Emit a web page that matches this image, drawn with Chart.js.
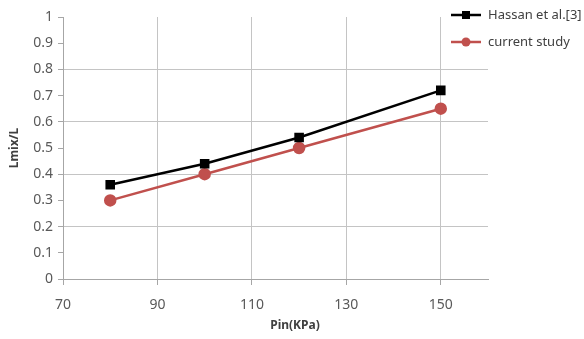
<!DOCTYPE html>
<html>
<head>
<meta charset="utf-8">
<script src="https://cdn.jsdelivr.net/npm/chart.js@4"></script>
<style>
  html, body { margin: 0; padding: 0; background: #fff; }
  #wrap { width: 584px; height: 339px; }
</style>
</head>
<body>
<div id="wrap"><canvas id="mixChart" width="584" height="339"></canvas></div>
<script>
// data
const pressures = [80, 100, 120, 150];
const hassan = [0.36, 0.44, 0.54, 0.72];
const current = [0.30, 0.40, 0.50, 0.65];
const xTickValues = [70, 90, 110, 130, 150];
const seriesNames = ['Hassan et al.[3]', 'current study'];

const gridColor = '#c4c4c4';
const axisColor = '#a6a6a6';
const labelColor = '#595959';
const red = '#c0504d';

const toPoints = (vals) => pressures.map((p, i) => ({ x: p, y: vals[i] }));

// legend and x title drawn by hand so they sit where the reference has them
const extras = {
  id: 'extras',
  afterDraw(chart) {
    const c = chart.ctx;
    const rows = [
      { name: seriesNames[0], color: '#000', y: 15, shape: 'rect' },
      { name: seriesNames[1], color: red, y: 42, shape: 'circle' }
    ];
    c.save();
    rows.forEach(r => {
      c.strokeStyle = r.color;
      c.fillStyle = r.color;
      c.lineWidth = 2.5;
      c.beginPath();
      c.moveTo(451, r.y);
      c.lineTo(481, r.y);
      c.stroke();
      if (r.shape === 'rect') {
        c.fillRect(462, r.y - 4, 8, 8);
      } else {
        c.beginPath();
        c.arc(466, r.y, 4.5, 0, Math.PI * 2);
        c.fill();
      }
      c.fillStyle = '#404040';
      c.font = '13px "Noto Sans"';
      c.textBaseline = 'middle';
      c.textAlign = 'left';
      c.fillText(r.name, 488, r.y);
    });
    c.fillStyle = '#404040';
    c.font = 'bold 12px "Noto Sans"';
    c.textAlign = 'center';
    c.textBaseline = 'middle';
    c.fillText('Pin(KPa)', 295, 326);
    c.restore();
  }
};

const ctx = document.getElementById('mixChart').getContext('2d');
const mixChart = new Chart(ctx, {
  type: 'scatter',
  data: {
    datasets: [{
      label: seriesNames[0],
      data: toPoints(hassan),
      showLine: true,
      borderColor: '#000',
      backgroundColor: '#000',
      borderWidth: 2.5,
      pointStyle: 'rect',
      pointRadius: 5,
      pointHoverRadius: 5
    }, {
      label: seriesNames[1],
      data: toPoints(current),
      showLine: true,
      borderColor: red,
      backgroundColor: red,
      borderWidth: 2.5,
      pointStyle: 'circle',
      pointRadius: 5,
      pointHoverRadius: 5
    }]
  },
  options: {
    responsive: false,
    animation: false,
    layout: { padding: { top: 17, right: 96, left: 0, bottom: 0 } },
    plugins: {
      legend: { display: false },
      tooltip: { enabled: false }
    },
    scales: {
      x: {
        type: 'linear',
        min: 70,
        max: 160,
        afterBuildTicks: (s) => { s.ticks = xTickValues.map(v => ({ value: v })); },
        afterFit: (s) => { s.height = 60; },
        border: { color: axisColor, width: 1 },
        grid: {
          color: (c) => c.tick && c.tick.value === 70 ? 'rgba(0,0,0,0)' : gridColor,
          tickColor: axisColor,
          tickLength: 6
        },
        ticks: {
          color: labelColor,
          font: { family: 'Noto Sans', size: 14 },
          padding: 12
        }
      },
      y: {
        min: 0,
        max: 1,
        afterFit: (s) => { s.width = 63; },
        border: { color: axisColor, width: 1 },
        grid: {
          color: (c) => {
            const v = Math.round(c.tick.value * 10);
            return (v % 2 === 0 && v > 0 && v < 10) ? gridColor : 'rgba(0,0,0,0)';
          },
          tickColor: axisColor,
          tickLength: 5
        },
        ticks: {
          stepSize: 0.1,
          color: labelColor,
          font: { family: 'Noto Sans', size: 14 },
          padding: 5,
          callback: (v) => Math.round(v * 10) / 10
        },
        title: {
          display: true,
          text: 'Lmix/L',
          color: '#404040',
          font: { family: 'Noto Sans', size: 12, weight: 'bold' },
          padding: { top: 7, bottom: 0 }
        }
      }
    }
  },
  plugins: [extras]
});
</script>
</body>
</html>
